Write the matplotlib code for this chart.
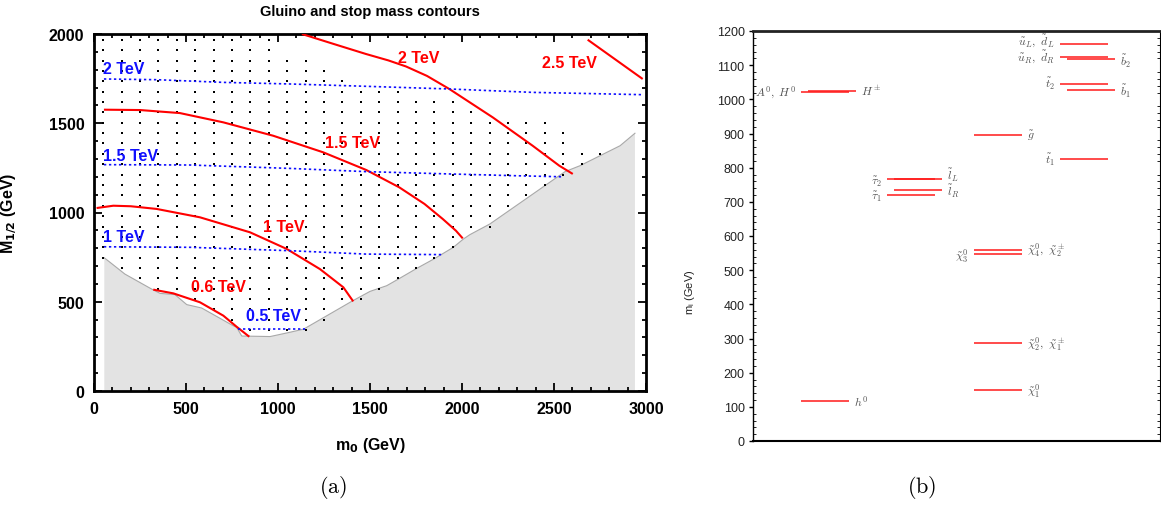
import numpy as np
import matplotlib
matplotlib.use("Agg")
import matplotlib.pyplot as plt
from matplotlib.ticker import MultipleLocator

plt.rcParams['font.family'] = ['Liberation Sans', 'DejaVu Sans']
plt.rcParams['mathtext.fontset'] = 'cm'

# ---------------- panel (a) data ----------------
# excluded-region boundary (m0, M1/2)
bound_m0 = [56, 56, 87, 168, 322, 359, 440, 504, 585, 756, 775, 803, 957, 1065, 1140,
            1400, 1500, 1591, 1654, 1754, 1853, 1953, 2007, 2043, 2152, 2560, 2641,
            2859, 2940, 2940]
bound_M = [0, 746, 721, 655, 566, 547, 540, 484, 465, 366, 357, 308, 305, 329, 347,
           502, 558, 590, 627, 687, 743, 805, 851, 876, 936, 1229, 1262,
           1374, 1444, 0]

# gluino contours (solid red)
gl06_m0 = [322, 431, 576, 703, 775, 844]
gl06_M = [568, 547, 497, 422, 360, 304]
gl10_m0 = [14, 105, 200, 340, 576, 848, 1047, 1228, 1355, 1400, 1409]
gl10_M = [1025, 1038, 1035, 1020, 973, 889, 796, 683, 581, 515, 502]
gl15_m0 = [54, 250, 467, 703, 974, 1246, 1480, 1659, 1796, 1895, 1967, 2004]
gl15_M = [1576, 1574, 1557, 1505, 1430, 1337, 1238, 1141, 1048, 964, 898, 855]
gl20_m0 = [1130, 1300, 1478, 1600, 1696, 1810, 1931, 2167, 2384, 2529, 2602]
gl20_M = [2000, 1945, 1888, 1852, 1818, 1765, 1692, 1533, 1374, 1262, 1216]
gl25_m0 = [2683, 2982]
gl25_M = [1968, 1748]

# stop contours (dotted blue)
st05_m0 = [784, 1147]
st05_M = [346, 346]
st10_m0 = [54, 522, 1065, 1478, 1895]
st10_M = [808, 805, 786, 767, 764]
st15_m0 = [54, 522, 1065, 1478, 1931, 2293, 2550]
st15_M = [1268, 1266, 1247, 1229, 1216, 1206, 1200]
st20_m0 = [54, 341, 703, 1065, 1478, 1931, 2384, 2982]
st20_M = [1748, 1744, 1729, 1720, 1707, 1692, 1673, 1660]

# scan grid (dots)
grid_m0 = [50, 150, 250, 350, 450, 550, 650, 750, 850, 950, 1050, 1150, 1250, 1350,
           1450, 1550, 1650, 1750, 1850, 1950, 2050, 2150, 2250, 2350, 2450, 2550,
           2650, 2750, 2850, 2950]
grid_M = [50, 108, 166, 224, 283, 341, 399, 457, 515, 573, 631, 689, 747, 805, 863,
          921, 980, 1038, 1096, 1154, 1212, 1270, 1329, 1387, 1445, 1503, 1561, 1619,
          1677, 1735, 1793, 1851, 1910, 1968]
grid_top = [1968, 1968, 1968, 1968, 1968, 1968, 1968, 1968, 1968, 1968, 1851, 1851,
            1793, 1735, 1677, 1677, 1677, 1619, 1619, 1619, 1561, 1503, 1503, 1503,
            1503, 1445, 1329, 1329, 0, 0]

red_labels = ['0.6 TeV', '1 TeV', '1.5 TeV', '2 TeV', '2.5 TeV']
red_lab_m0 = [676, 1033, 1405, 1764, 2582]
red_lab_M = [588, 922, 1393, 1866, 1843]
blue_labels = ['0.5 TeV', '1 TeV', '1.5 TeV', '2 TeV']
blue_lab_m0 = [975, 51, 51, 51]
blue_lab_M = [422, 863, 1318, 1804]
blue_lab_ha = ['center', 'left', 'left', 'left']

# ---------------- panel (b) data ----------------
p_labels = [r'$h^0$', r'$A^0,\ H^0$', r'$H^\pm$',
            r'$\tilde{\tau}_2$', r'$\tilde{\tau}_1$', r'$\tilde{l}_L$', r'$\tilde{l}_R$',
            r'$\tilde{g}$', r'$\tilde{\chi}_3^0$', r'$\tilde{\chi}_4^0,\ \tilde{\chi}_2^\pm$',
            r'$\tilde{\chi}_2^0,\ \tilde{\chi}_1^\pm$', r'$\tilde{\chi}_1^0$',
            r'$\tilde{u}_L,\ \tilde{d}_L$', r'$\tilde{u}_R,\ \tilde{d}_R$', r'$\tilde{b}_2$',
            r'$\tilde{t}_2$', r'$\tilde{b}_1$', r'$\tilde{t}_1$']
p_mass = [117, 1022, 1025,
          766, 721, 768, 736,
          895, 547, 558, 286, 150,
          1163, 1124, 1117, 1044, 1027, 824]
p_col = [0, 0, 0,
         1, 1, 1, 1,
         2, 2, 2, 2, 2,
         3, 3, 3, 3, 3, 3]
p_shift = [0, 0, 1,
           0, 0, 1, 1,
           0, 0, 0, 0, 0,
           0, 0, 1, 0, 1, 0]
p_side = ['r', 'l', 'r',
          'l', 'l', 'r', 'r',
          'r', 'l', 'r', 'r', 'r',
          'l', 'l', 'r', 'l', 'r', 'l']
# label nudges (GeV) so stacked labels stay readable
p_label_dy = [0, 0, 0,
              -4, -3, 13, -2,
              0, -4, 4, 0, 0,
              10, 4, -4, 4, 0, 0]

# ---------------- figure ----------------
W, H = 1161, 506
fig = plt.figure(figsize=(W / 100, H / 100), dpi=100)

def frac(x0, y0, x1, y1):
    return [x0 / W, 1 - y1 / H, (x1 - x0) / W, (y1 - y0) / H]

ax = fig.add_axes(frac(94, 35, 646, 392))
ax.set_xlim(0, 3000)
ax.set_ylim(0, 2000)

ax.fill(bound_m0, bound_M, color='#e3e3e3', lw=0, zorder=1)
ax.plot(bound_m0[1:-1], bound_M[1:-1], color='#a9a9a9', lw=0.8, zorder=1.5)

# dots above the boundary and below each column's top
gm0 = np.array(grid_m0, dtype=float)
gM = np.array(grid_M, dtype=float)
bmin = np.interp(gm0, bound_m0[1:-1], bound_M[1:-1])
xs, ys = [], []
for i, m in enumerate(gm0):
    sel = (gM >= bmin[i] - 15) & (gM <= grid_top[i])
    xs.extend([m] * int(sel.sum()))
    ys.extend(gM[sel].tolist())
ax.scatter(xs, ys, s=2.2, marker='s', color='black', linewidths=0, zorder=2)

red = '#ff0000'
blue = '#1010ff'
for xm, ym in [(gl06_m0, gl06_M), (gl10_m0, gl10_M), (gl15_m0, gl15_M),
               (gl20_m0, gl20_M), (gl25_m0, gl25_M)]:
    ax.plot(xm, ym, color=red, lw=1.5, zorder=3, solid_capstyle='butt')
for xm, ym in [(st05_m0, st05_M), (st10_m0, st10_M), (st15_m0, st15_M),
               (st20_m0, st20_M)]:
    ax.plot(xm, ym, color=blue, lw=1.2, ls=(0, (1.4, 1.6)), zorder=3)

for t, x, y in zip(red_labels, red_lab_m0, red_lab_M):
    ax.text(x, y, t, color=red, fontsize=11.5, fontweight='bold', ha='center',
            va='center', zorder=4)
for t, x, y, ha in zip(blue_labels, blue_lab_m0, blue_lab_M, blue_lab_ha):
    ax.text(x, y, t, color=blue, fontsize=11.5, fontweight='bold', ha=ha,
            va='center', zorder=4)

ax.xaxis.set_major_locator(MultipleLocator(500))
ax.xaxis.set_minor_locator(MultipleLocator(100))
ax.yaxis.set_major_locator(MultipleLocator(500))
ax.yaxis.set_minor_locator(MultipleLocator(100))
ax.tick_params(which='both', direction='in', top=True, right=True, width=1.3,
               labelsize=11.5)
ax.tick_params(which='major', length=6, pad=7)
ax.tick_params(which='minor', length=3)
for lab in ax.get_xticklabels() + ax.get_yticklabels():
    lab.set_fontweight('bold')
for sp in ax.spines.values():
    sp.set_linewidth(2)

ax.set_title('Gluino and stop mass contours', fontsize=10.5, fontweight='bold', pad=14)
ax.set_xlabel(r'm$_\mathbf{0}$ (GeV)', fontsize=11.5, fontweight='bold',
              math_fontfamily='dejavusans')
ax.set_ylabel(r'M$_\mathbf{1/2}$ (GeV)', fontsize=11.5, fontweight='bold',
              math_fontfamily='dejavusans')
ax.xaxis.set_label_coords(0.5, -(436 - 392) / 357)
ax.yaxis.set_label_coords(-(94 - 19) / 552, 0.5)

# ---------------- panel (b) ----------------
bx = fig.add_axes(frac(753, 32, 1160, 442))
spacing = 86.3
bx.set_xlim(-(825 - 753) / spacing, (1160 - 825) / spacing)
bx.set_ylim(0, 1200)
half = 24 / spacing
off = 7 / spacing
gap = 5 / spacing
for lab, m, c, s, side, dy in zip(p_labels, p_mass, p_col, p_shift, p_side, p_label_dy):
    x0 = c - half + s * off
    x1 = c + half + s * off
    bx.hlines(m, x0, x1, color='#ff1a1a', lw=1.1)
    if side == 'r':
        bx.text(x1 + gap, m + dy, lab, fontsize=8.5, color='#555555', ha='left',
                va='center')
    else:
        bx.text(x0 - gap, m + dy, lab, fontsize=8.5, color='#555555', ha='right',
                va='center')

bx.yaxis.set_major_locator(MultipleLocator(100))
bx.yaxis.set_minor_locator(MultipleLocator(20))
bx.tick_params(axis='x', which='both', bottom=False, labelbottom=False)
bx.tick_params(axis='y', which='major', direction='out', length=3, width=1,
               labelsize=9, pad=3, right=True)
bx.tick_params(axis='y', which='minor', direction='in', length=2, width=0.6, right=True)
for lab in bx.get_yticklabels():
    lab.set_color('#222222')
bx.spines['top'].set_linewidth(2)
bx.spines['top'].set_color('#222222')
bx.spines['bottom'].set_linewidth(1.5)
bx.spines['left'].set_linewidth(1.0)
bx.spines['right'].set_linewidth(0.8)
bx.set_ylabel(r'm$_\mathregular{i}$ (GeV)', fontsize=8, color='#222222',
              math_fontfamily='dejavusans')
bx.yaxis.set_label_coords(-(753 - 697) / 407, (442 - 292) / 410)

fig.text(333 / W, 1 - 488 / H, r'$\mathrm{(a)}$', fontsize=16, ha='center', va='center')
fig.text(922 / W, 1 - 488 / H, r'$\mathrm{(b)}$', fontsize=16, ha='center', va='center')

fig.savefig('out.png', dpi=100)
